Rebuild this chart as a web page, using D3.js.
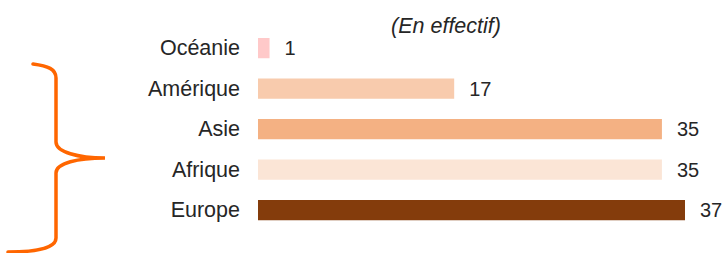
<!DOCTYPE html>
<html>
<head>
<meta charset="utf-8">
<script src="https://cdn.jsdelivr.net/npm/d3@7"></script>
<style>
  body { margin: 0; background: #fff; }
  text { font-family: "Liberation Sans", Arial, sans-serif; fill: #262626; }
</style>
</head>
<body>
<div id="chart"></div>
<script>
// Data
const regions = ['Océanie', 'Amérique', 'Asie', 'Afrique', 'Europe'];
const counts = [1, 17, 35, 35, 37];
const barColors = ['#ffc9c9', '#f8cbad', '#f4b183', '#fbe5d6', '#843c0c'];
const unitLabel = '(En effectif)';

const width = 723, height = 253;
const fontSize = 21.5;

const svg = d3.select('#chart')
  .append('svg')
  .attr('width', width)
  .attr('height', height);

// Scales
const xScale = d3.scaleLinear().domain([0, 37]).range([258, 685]);
const yScale = d3.scaleBand().domain(regions).range([17.75, 240.5])
  .paddingInner(0.5).paddingOuter(0.5);

// Bars
svg.selectAll('.bar')
  .data(regions)
  .enter()
  .append('rect')
  .attr('class', 'bar')
  .attr('x', xScale(0))
  .attr('y', d => yScale(d))
  .attr('width', (d, i) => xScale(counts[i]) - xScale(0))
  .attr('height', yScale.bandwidth())
  .attr('fill', (d, i) => barColors[i]);

// Category labels (left axis, no line)
const yAxis = svg.append('g')
  .attr('transform', `translate(${xScale(0)},0)`)
  .call(d3.axisLeft(yScale).tickSize(0).tickPadding(18));
yAxis.select('.domain').remove();
yAxis.selectAll('text')
  .attr('font-size', fontSize)
  .attr('font-family', '"Liberation Sans", Arial, sans-serif')
  .attr('fill', '#262626');

// Value labels
svg.selectAll('.value')
  .data(regions)
  .enter()
  .append('text')
  .attr('class', 'value')
  .attr('x', (d, i) => xScale(counts[i]) + 15)
  .attr('y', d => yScale(d) + yScale.bandwidth() / 2)
  .attr('dy', '0.35em')
  .attr('font-size', 20)
  .text((d, i) => counts[i]);

// Unit note
svg.append('text')
  .attr('x', 446)
  .attr('y', 33)
  .attr('text-anchor', 'middle')
  .attr('font-size', fontSize)
  .attr('font-style', 'italic')
  .text(unitLabel);

// Orange brace on the left
svg.append('path')
  .attr('d', 'M33,64 C48,66 56,69 56,78 L56,142 C56,152 78,158 105,158 C78,158 56,163 56,173 L56,238 C56,247 40,252 8,252')
  .attr('fill', 'none')
  .attr('stroke', '#ff6600')
  .attr('stroke-width', 3.5)
  .attr('stroke-linecap', 'round');
</script>
</body>
</html>
